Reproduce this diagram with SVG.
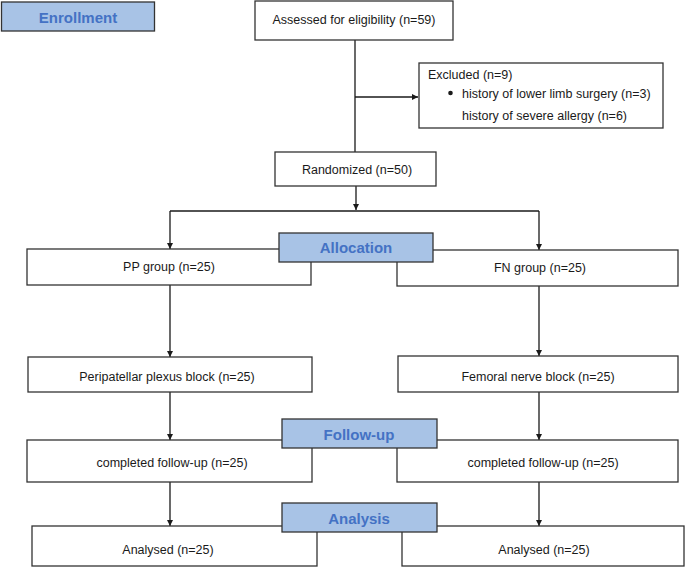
<svg xmlns="http://www.w3.org/2000/svg" width="685" height="567" viewBox="0 0 685 567">
<style>
.box{fill:#ffffff;stroke:#333333;stroke-width:1.3}
.stage{fill:#a8c3e6;stroke:#333333;stroke-width:1.3}
.t{font-family:"Liberation Sans",Arial,sans-serif;font-size:12.5px;fill:#1a1a1a;text-anchor:middle}
.tl{font-family:"Liberation Sans",Arial,sans-serif;font-size:12.5px;fill:#1a1a1a}
.st{font-family:"Liberation Sans",Arial,sans-serif;font-size:15px;font-weight:bold;fill:#4472c4;text-anchor:middle}
.c{fill:none;stroke:#1a1a1a;stroke-width:1.3}
</style>
<defs>
<marker id="ah" markerUnits="userSpaceOnUse" markerWidth="8" markerHeight="8" refX="6" refY="3" orient="auto">
<path d="M0,0 L6,3 L0,6 Z" fill="#1a1a1a"/>
</marker>
</defs>
<rect width="685" height="567" fill="#ffffff"/>
<g id="connectors">
<path class="c" d="M355,40 V152"/>
<path class="c" d="M355,97 H418" marker-end="url(#ah)"/>
<path class="c" d="M356,186 V210" marker-end="url(#ah)"/>
<path class="c" d="M170,211 H539"/>
<path class="c" d="M170,211 V249" marker-end="url(#ah)"/>
<path class="c" d="M539,211 V250" marker-end="url(#ah)"/>
<path class="c" d="M170,285 V357" marker-end="url(#ah)"/>
<path class="c" d="M539,286 V356" marker-end="url(#ah)"/>
<path class="c" d="M170,392 V440" marker-end="url(#ah)"/>
<path class="c" d="M539,392 V440" marker-end="url(#ah)"/>
<path class="c" d="M170,482 V526" marker-end="url(#ah)"/>
<path class="c" d="M539,482 V526" marker-end="url(#ah)"/>
</g>
<g id="enrollment">
<rect class="stage" x="1.5" y="2" width="153" height="29"/>
<text class="st" x="78" y="22.5">Enrollment</text>
</g>
<g id="assessed">
<rect class="box" x="255" y="1" width="198" height="39"/>
<text class="t" x="354" y="24">Assessed for eligibility (n=59)</text>
</g>
<g id="excluded">
<rect class="box" x="419" y="63" width="244" height="65"/>
<text class="tl" x="428" y="79">Excluded (n=9)</text>
<circle cx="450.5" cy="93" r="2.3" fill="#1a1a1a"/>
<text class="tl" x="462" y="97.5">history of lower limb surgery (n=3)</text>
<text class="tl" x="462" y="119.5">history of severe allergy (n=6)</text>
</g>
<g id="randomized">
<rect class="box" x="275" y="152" width="161" height="34"/>
<text class="t" x="357" y="174">Randomized (n=50)</text>
</g>
<g id="pp-group">
<rect class="box" x="27" y="249" width="284" height="36"/>
<text class="t" x="169" y="271">PP group (n=25)</text>
</g>
<g id="fn-group">
<rect class="box" x="397" y="250" width="281" height="36"/>
<text class="t" x="540" y="272">FN group (n=25)</text>
</g>
<g id="allocation">
<rect class="stage" x="279" y="233" width="154" height="29"/>
<text class="st" x="356" y="253">Allocation</text>
</g>
<g id="pp-block">
<rect class="box" x="28" y="357" width="284" height="35"/>
<text class="t" x="167" y="381">Peripatellar plexus block (n=25)</text>
</g>
<g id="fn-block">
<rect class="box" x="398" y="356" width="280" height="36"/>
<text class="t" x="538" y="381">Femoral nerve block (n=25)</text>
</g>
<g id="pp-followup">
<rect class="box" x="27" y="440" width="285" height="42"/>
<text class="t" x="172" y="467">completed follow-up (n=25)</text>
</g>
<g id="fn-followup">
<rect class="box" x="397" y="440" width="281" height="42"/>
<text class="t" x="543" y="467">completed follow-up (n=25)</text>
</g>
<g id="follow-up">
<rect class="stage" x="282" y="419" width="155" height="29"/>
<text class="st" x="359" y="439.5">Follow-up</text>
</g>
<g id="pp-analysed">
<rect class="box" x="32" y="526" width="285" height="40"/>
<text class="t" x="168" y="554">Analysed (n=25)</text>
</g>
<g id="fn-analysed">
<rect class="box" x="402" y="526" width="282" height="40"/>
<text class="t" x="544" y="554">Analysed (n=25)</text>
</g>
<g id="analysis">
<rect class="stage" x="282" y="503" width="155" height="29"/>
<text class="st" x="359" y="523.5">Analysis</text>
</g>
</svg>
